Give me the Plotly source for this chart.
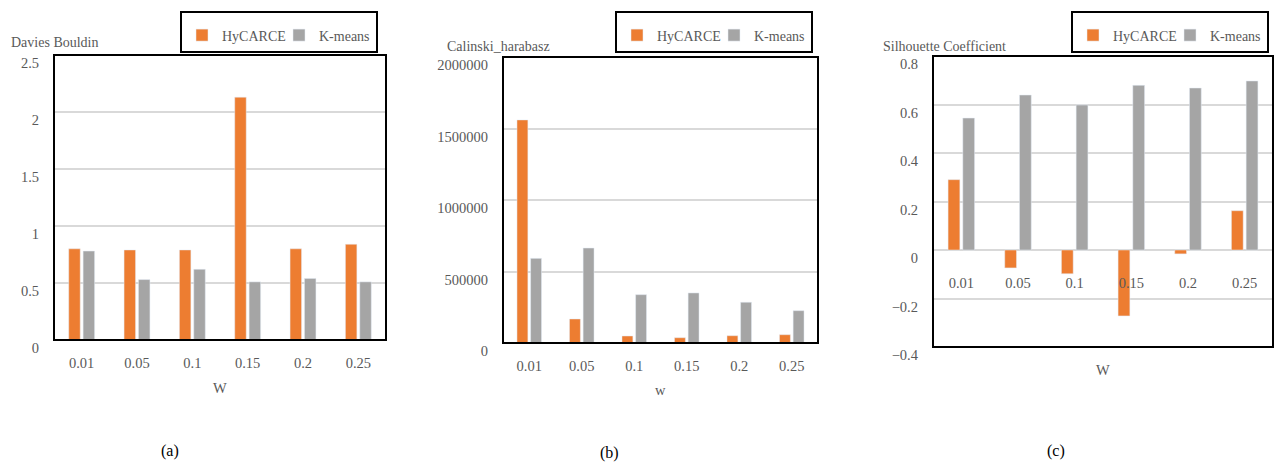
import plotly.graph_objects as go

# ---------------- data ----------------
w_labels = ["0.01", "0.05", "0.1", "0.15", "0.2", "0.25"]
db_hycarce = [0.80, 0.79, 0.79, 2.13, 0.80, 0.84]
db_kmeans = [0.78, 0.53, 0.62, 0.51, 0.54, 0.51]
ch_hycarce = [1560000, 168000, 49000, 37000, 51000, 58000]
ch_kmeans = [592000, 664000, 338000, 350000, 285000, 226000]
sc_hycarce = [0.29, -0.074, -0.098, -0.272, -0.016, 0.162]
sc_kmeans = [0.544, 0.639, 0.598, 0.679, 0.668, 0.697]
series_names = ["HyCARCE", "K-means"]

W, H = 1277, 464
ORANGE = "#ED7D31"
GRAY = "#A5A5A5"
TXT = "#595959"
FONT = "Liberation Serif"


def px_x(p):
    return p / W


def px_y(p):
    return 1 - p / H


fig = go.Figure()

panels = [
    dict(hy=db_hycarce, km=db_kmeans, xd=(54, 386), yd=(55, 340), rng=[0, 2.5], dt=0.5,
         fmt="", legend="legend", ytitle="Davies Bouldin", ytpos=(9, 42), xtitle="W", xtpos=(220, 388),
         leg=(180, 11), cap="(a)", cappos=(170, 451)),
    dict(hy=ch_hycarce, km=ch_kmeans, xd=(503, 818), yd=(57, 343), rng=[0, 2000000], dt=500000,
         fmt="d", legend="legend2", ytitle="Calinski_harabasz", ytpos=(445, 46), xtitle="w", xtpos=(660, 390),
         leg=(615, 11), cap="(b)", cappos=(609, 453)),
    dict(hy=sc_hycarce, km=sc_kmeans, xd=(933, 1273), yd=(56, 347), rng=[-0.4, 0.8], dt=0.2,
         fmt="", legend="legend3", ytitle="Silhouette Coefficient", ytpos=(881, 46), xtitle="W", xtpos=(1103, 370),
         leg=(1071, 11), cap="(c)", cappos=(1056, 451)),
]

annotations = []
shapes = []
for i, p in enumerate(panels, start=1):
    xa = "x" if i == 1 else f"x{i}"
    ya = "y" if i == 1 else f"y{i}"
    fig.add_trace(go.Bar(x=w_labels, y=p["hy"], name=series_names[0], marker_color=ORANGE,
                         xaxis=xa, yaxis=ya, legend=p["legend"]))
    fig.add_trace(go.Bar(x=w_labels, y=p["km"], name=series_names[1], marker_color=GRAY,
                         xaxis=xa, yaxis=ya, legend=p["legend"]))
    xdom = [px_x(p["xd"][0]), px_x(p["xd"][1])]
    ydom = [px_y(p["yd"][1]), px_y(p["yd"][0])]
    xkey = "xaxis" if i == 1 else f"xaxis{i}"
    ykey = "yaxis" if i == 1 else f"yaxis{i}"
    xaxis = dict(domain=xdom, anchor=ya, showgrid=False, showline=False, ticks="", automargin=False,
                 tickfont=dict(family=FONT, size=14.5, color=TXT), ticklabelstandoff=12,
                 type="category")
    if p["rng"][0] < 0:
        zero_frac = (0 - p["rng"][0]) / (p["rng"][1] - p["rng"][0])
        xaxis.update(anchor="free", position=ydom[0] + (ydom[1] - ydom[0]) * zero_frac,
                     ticklabelstandoff=22)
    fig.update_layout({xkey: xaxis})
    fig.update_layout({ykey: dict(domain=ydom, anchor=xa, range=p["rng"], dtick=p["dt"], tick0=0,
                                  tickformat=p["fmt"], showgrid=True, gridcolor="#D9D9D9", gridwidth=2,
                                  zeroline=True, zerolinecolor="#D9D9D9", zerolinewidth=2, automargin=False,
                                  showline=False, ticks="", ticklabelshift=8, ticklabelstandoff=14,
                                  tickfont=dict(family=FONT, size=14.5, color=TXT))})
    # plot frame
    shapes.append(dict(type="rect", xref=f"{xa} domain", yref=f"{ya} domain", x0=0, x1=1, y0=0, y1=1,
                       line=dict(color="black", width=2), fillcolor="rgba(0,0,0,0)", layer="above"))
    annotations.append(dict(text=p["ytitle"], xref="paper", yref="paper", x=px_x(p["ytpos"][0]),
                            y=px_y(p["ytpos"][1]), xanchor="left", yanchor="middle", showarrow=False,
                            font=dict(family=FONT, size=14, color=TXT)))
    annotations.append(dict(text=p["xtitle"], xref="paper", yref="paper", x=px_x(p["xtpos"][0]),
                            y=px_y(p["xtpos"][1]), xanchor="center", yanchor="middle", showarrow=False,
                            font=dict(family=FONT, size=14.5, color=TXT)))
    annotations.append(dict(text=p["cap"], xref="paper", yref="paper", x=px_x(p["cappos"][0]),
                            y=px_y(p["cappos"][1]), xanchor="center", yanchor="middle", showarrow=False,
                            font=dict(family=FONT, size=16, color="black")))
    fig.update_layout({p["legend"]: dict(orientation="h", x=px_x(p["leg"][0]), xanchor="left",
                                         y=px_y(p["leg"][1]), yanchor="top", bordercolor="black",
                                         borderwidth=2, bgcolor="white", entrywidth=52,
                                         title=dict(text=" ", side="top", font=dict(size=5)),
                                         font=dict(family=FONT, size=14, color=TXT))})

fig.update_layout(width=W, height=H, margin=dict(l=0, r=0, t=0, b=0, autoexpand=False),
                  paper_bgcolor="white",
                  plot_bgcolor="white", barmode="group", bargap=0.48, bargroupgap=0.2,
                  shapes=shapes, annotations=annotations, showlegend=True)

fig.write_html("out.html", config={"displayModeBar": False},
               post_script="document.body.style.margin='0px';document.body.style.overflow='hidden';")
